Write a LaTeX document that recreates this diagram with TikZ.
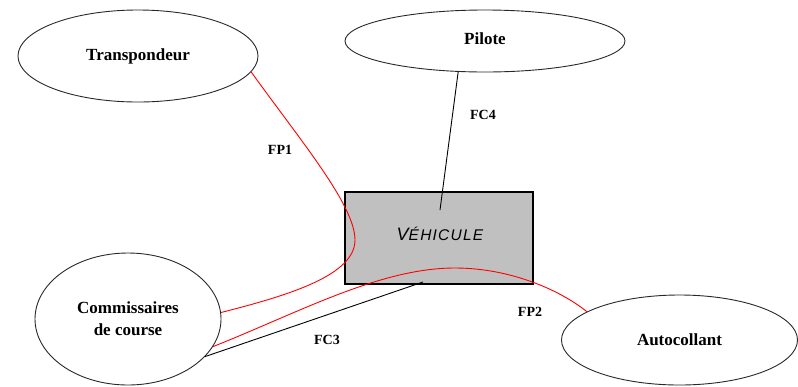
\documentclass[tikz,border=0pt]{standalone}
\usepackage{fontspec}
\setmainfont{Liberation Serif}
\newfontfamily\vehfont[LetterSpace=8]{Liberation Sans}
\usetikzlibrary{shapes.geometric}

\definecolor{boxgray}{RGB}{192,192,192}
\definecolor{edgegray}{RGB}{40,40,40}

\tikzset{
  actor/.style={ellipse, draw=edgegray, line width=0.9bp, inner sep=0pt,
    font=\fontsize{17bp}{22bp}\selectfont\bfseries, align=center},
  systembox/.style={rectangle, draw=black, line width=1.3bp, fill=boxgray,
    minimum width=188bp, minimum height=92bp, inner sep=0pt},
  pfun/.style={draw=red, line width=0.9bp},
  cfun/.style={draw=black, line width=0.9bp},
  funlabel/.style={font=\fontsize{14bp}{14bp}\selectfont\bfseries, inner sep=0pt}
}

\begin{document}
\begin{tikzpicture}[x=1bp, y=-1bp]
  \useasboundingbox (0,0) rectangle (798,386);

  % surrounding elements
  \node[actor, minimum width=240bp, minimum height=92bp] (trans) at (138,56) {Transpondeur};
  \node[actor, minimum width=280bp, minimum height=62bp] (pil) at (485,41) {\raisebox{4bp}{Pilote}};
  \node[actor, minimum width=186bp, minimum height=132bp] (comm) at (128,319) {Commissaires\\de course};
  \node[actor, minimum width=236bp, minimum height=90bp] (auto) at (679.5,340) {\raisebox{-3bp}{Autocollant}};

  % the product
  \node[systembox] (veh) at (439,238) {};
  \node[inner sep=0pt] (vehtext) at (440,234)
    {\vehfont\itshape{\fontsize{18bp}{18bp}\selectfont V}{\fontsize{15.5bp}{15.5bp}\selectfont ÉHICULE}};

  \coordinate (c4end) at (440,210);
  \coordinate (c3end) at (423,282);

  % principal functions
  \draw[pfun] (trans.-8.5) .. controls (300,140) and (355,205) .. (355,240)
                           .. controls (355,275) and (290,295) .. (comm.4);
  \draw[pfun] (comm.-18) .. controls (300,312) and (380,268) .. (455,268)
                         .. controls (510,268) and (560,290) .. (auto.163.6);

  % constraint functions
  \draw[cfun] (pil.-131) -- (c4end);
  \draw[cfun] (comm.-26.6) -- (c3end);

  % function labels
  \node[funlabel] (fp1) at (280,150) {FP1};
  \node[funlabel] (fc4) at (483,115) {FC4};
  \node[funlabel] (fc3) at (327,340) {FC3};
  \node[funlabel] (fp2) at (530,312) {FP2};
\end{tikzpicture}
\end{document}
